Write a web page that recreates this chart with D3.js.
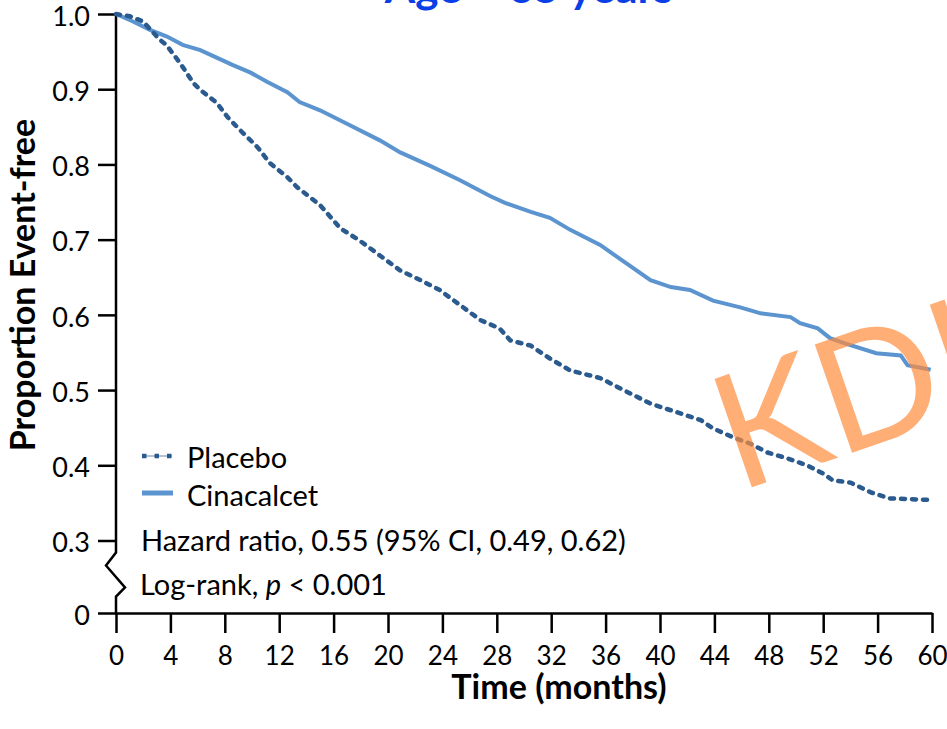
<!DOCTYPE html>
<html>
<head>
<meta charset="utf-8">
<script src="https://cdn.jsdelivr.net/npm/d3@7"></script>
<style>
  html, body { margin: 0; padding: 0; background: #fff; }
  svg { display: block; font-family: Lato, "Open Sans", sans-serif; }
</style>
</head>
<body>
<svg id="container" width="947" height="729"></svg>
<script>
// Kaplan-Meier estimates (months, proportion event-free)
const placeboMonths = [0, 1.0, 2.0, 2.7, 3.2, 3.7, 4.7, 5.7, 6.2, 7.4, 8.2, 9.1, 10.4, 11.3, 12.6, 13.3,
  15.0, 16.5, 17.9, 19.4, 20.9, 22.4, 23.8, 25.3, 26.8, 28.2, 29.0, 30.5, 31.9, 33.4, 35.6, 37.1,
  39.3, 41.5, 43.0, 43.9, 45.4, 46.6, 47.9, 49.4, 50.8, 52.0, 52.7, 54.0, 55.5, 56.9, 59.7];
const placeboSurv = [1.0, 0.997, 0.990, 0.976, 0.966, 0.959, 0.935, 0.908, 0.899, 0.882, 0.863, 0.846, 0.823, 0.802, 0.783, 0.770,
  0.746, 0.715, 0.699, 0.679, 0.659, 0.646, 0.633, 0.613, 0.593, 0.582, 0.566, 0.559, 0.542, 0.526, 0.516, 0.502,
  0.482, 0.469, 0.460, 0.449, 0.437, 0.429, 0.417, 0.409, 0.400, 0.389, 0.380, 0.377, 0.364, 0.356, 0.354];

const cinacalcetMonths = [0, 1.25, 2.5, 3.75, 4.9, 6.2, 7.4, 8.6, 9.9, 11.1, 12.6, 13.5, 15.0, 17.2, 19.4, 20.9,
  23.1, 25.3, 27.5, 28.6, 30.5, 31.9, 33.4, 35.6, 37.4, 39.3, 40.8, 42.2, 43.9, 45.9, 47.4, 49.6,
  50.3, 51.6, 52.5, 53.6, 55.9, 57.7, 58.2, 59.9];
const cinacalcetSurv = [1.0, 0.990, 0.979, 0.970, 0.959, 0.952, 0.942, 0.932, 0.922, 0.910, 0.896, 0.883, 0.872, 0.852, 0.832, 0.816,
  0.798, 0.779, 0.758, 0.749, 0.737, 0.729, 0.713, 0.693, 0.670, 0.646, 0.637, 0.633, 0.619, 0.610, 0.602, 0.597,
  0.589, 0.582, 0.569, 0.562, 0.549, 0.546, 0.533, 0.527];

const xTicks = d3.range(0, 61, 4);
const yTicks = [0, 0.3, 0.4, 0.5, 0.6, 0.7, 0.8, 0.9, 1.0];
const seriesNames = ["Placebo", "Cinacalcet"];

const svg = d3.select('#container');
const placeboColor = "#2a5a8e", cinaColor = "#5b94cf";

// broken y axis: 0 sits below the break, 0.3..1.0 is the linear part
const x = d3.scaleLinear().domain([0, 60]).range([116, 932]);
const y = d3.scaleLinear().domain([0, 0.3, 1]).range([613, 540.5, 14]);

// title, cut off at the top edge
svg.append('text')
  .attr('x', 529).attr('y', 3)
  .attr('text-anchor', 'middle')
  .attr('font-size', 44).attr('font-weight', 'bold')
  .attr('fill', '#0a3ee6')
  .text('Age < 65 years');

// x axis
const xAxis = svg.append('g')
  .attr('transform', `translate(0,${y(0)})`)
  .call(d3.axisBottom(x).tickValues(xTicks).tickSize(20).tickPadding(14).tickSizeOuter(0));
xAxis.select('.domain').attr('stroke-width', 2.5);
xAxis.selectAll('.tick line').attr('stroke-width', 2.5);
xAxis.selectAll('.tick text').attr('font-size', 26).attr('font-family', 'Lato').attr('fill', '#000');

// y axis
const yAxis = svg.append('g')
  .attr('transform', `translate(${x(0)},0)`)
  .call(d3.axisLeft(y).tickValues(yTicks).tickSize(18).tickPadding(8)
    .tickFormat(d => d === 0 ? "0" : d3.format(".1f")(d)));
yAxis.select('.domain').remove();
yAxis.selectAll('.tick line').attr('stroke-width', 2.5);
yAxis.selectAll('.tick text').attr('font-size', 27).attr('font-family', 'Lato').attr('fill', '#000')
  .attr('dy', '0.42em');

// axis line with the break zigzag
const x0 = x(0);
const brk = [[x0, y(1)], [x0, y(0.3) + 12], [x0 - 10, y(0.3) + 25], [x0 + 9, y(0.3) + 47],
  [x0, y(0.3) + 56], [x0, y(0)]];
svg.append('path')
  .attr('d', d3.line()(brk))
  .attr('fill', 'none').attr('stroke', '#000').attr('stroke-width', 2.5);

// axis titles
svg.append('text')
  .attr('transform', `translate(35,285) rotate(-90)`)
  .attr('text-anchor', 'middle')
  .attr('font-size', 34).attr('font-weight', 'bold')
  .text('Proportion Event-free');

svg.append('text')
  .attr('x', 559).attr('y', 699)
  .attr('text-anchor', 'middle')
  .attr('font-size', 34).attr('font-weight', 'bold')
  .text('Time (months)');

// curves
const line = d3.line().x(d => x(d[0])).y(d => y(d[1]));

svg.append('path')
  .datum(d3.zip(cinacalcetMonths, cinacalcetSurv))
  .attr('d', line)
  .attr('fill', 'none').attr('stroke', cinaColor).attr('stroke-width', 4);

svg.append('path')
  .datum(d3.zip(placeboMonths, placeboSurv))
  .attr('d', line)
  .attr('fill', 'none').attr('stroke', placeboColor).attr('stroke-width', 4.5)
  .attr('stroke-dasharray', '4,7').attr('stroke-linecap', 'round');

// legend
const legend = svg.append('g').attr('font-size', 29);
legend.append('line').attr('x1', 142).attr('x2', 172).attr('y1', 456).attr('y2', 456)
  .attr('stroke', placeboColor).attr('stroke-width', 1.2).attr('opacity', 0.6);
legend.append('line').attr('x1', 142).attr('x2', 172).attr('y1', 456).attr('y2', 456)
  .attr('stroke', placeboColor).attr('stroke-width', 4.5).attr('stroke-dasharray', '4.5,8');
legend.append('text').attr('x', 187).attr('y', 468).text(seriesNames[0]);

legend.append('line').attr('x1', 142).attr('x2', 173).attr('y1', 493).attr('y2', 493)
  .attr('stroke', cinaColor).attr('stroke-width', 5);
legend.append('text').attr('x', 187).attr('y', 506).text(seriesNames[1]);

legend.append('text').attr('x', 141).attr('y', 551)
  .text('Hazard ratio, 0.55 (95% CI, 0.49, 0.62)');
const lr = legend.append('text').attr('x', 140).attr('y', 595);
lr.append('tspan').text('Log-rank, ');
lr.append('tspan').attr('font-style', 'italic').text('p');
lr.append('tspan').text(' < 0.001');

// watermark
svg.append('text')
  .attr('transform', 'translate(738,492) rotate(-19)')
  .attr('font-size', 160)
  .attr('fill', '#ff8c3c').attr('opacity', 0.7)
  .text('KDIGO');
</script>
</body>
</html>
